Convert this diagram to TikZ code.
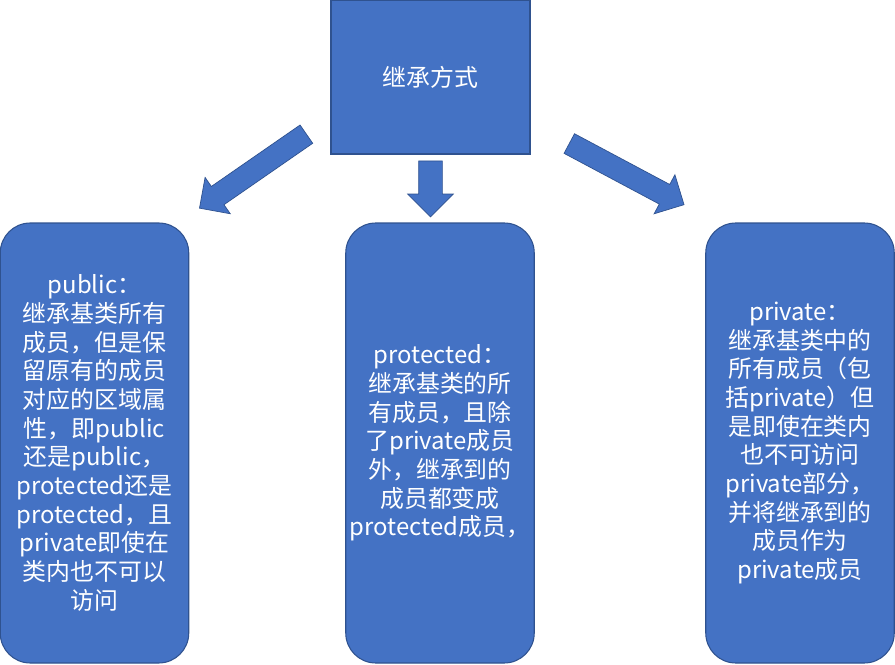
\documentclass[tikz,border=0pt]{standalone}
\usepackage{fontspec}
\setmainfont{Noto Sans CJK SC}
\usepackage{tikz}
\usetikzlibrary{shapes.arrows,positioning}

\definecolor{boxblue}{HTML}{4472C4}
\definecolor{edgeblue}{HTML}{2F528F}

\begin{document}
\begin{tikzpicture}[
  box/.style={draw=edgeblue,line width=0.6pt,fill=boxblue,text=white,align=center,
              font=\fontsize{13.6}{16.3}\selectfont,inner sep=0pt},
  card/.style={box,rounded corners=0.6cm,minimum width=3.77cm,minimum height=8.8cm},
  arr/.style={single arrow,draw=edgeblue,line width=0.4pt,fill=boxblue,inner sep=0.215cm,
              single arrow head extend=0.22cm,minimum width=0pt}
]
  \useasboundingbox (0,0) rectangle (17.9,-13.28);
  % Inheritance mode
  \node[box,minimum width=3.98cm,minimum height=3.08cm] (method) at (8.61,-1.54) {继承方式};
  % public
  \node[card] (pub) at (1.89,-8.86) {public：\\继承基类所有\\成员，但是保\\留原有的成员\\对应的区域属\\性，即public\\还是public，\\protected还是\\protected，且\\private即使在\\类内也不可以\\访问};
  % protected
  \node[card] (prot) at (8.80,-8.86) {protected：\\继承基类的所\\有成员，且除\\了private成员\\外，继承到的\\成员都变成\\protected成员，};
  % private
  \node[card] (priv) at (16.00,-8.86) {private：\\继承基类中的\\所有成员（包\\括private）但\\是即使在类内\\也不可访问\\private部分，\\并将继承到的\\成员作为\\private成员};
  % Arrows
  \node[arr,rotate=214.7,minimum height=2.6cm] (arrL) at (5.15,-3.36) {};
  \node[arr,rotate=-90,minimum height=1.12cm,inner sep=0.23cm] (arrM) at (8.61,-3.66) {};
  \node[arr,rotate=-28.05,minimum height=2.6cm] (arrR) at (12.435,-3.43) {};
\end{tikzpicture}
\end{document}
